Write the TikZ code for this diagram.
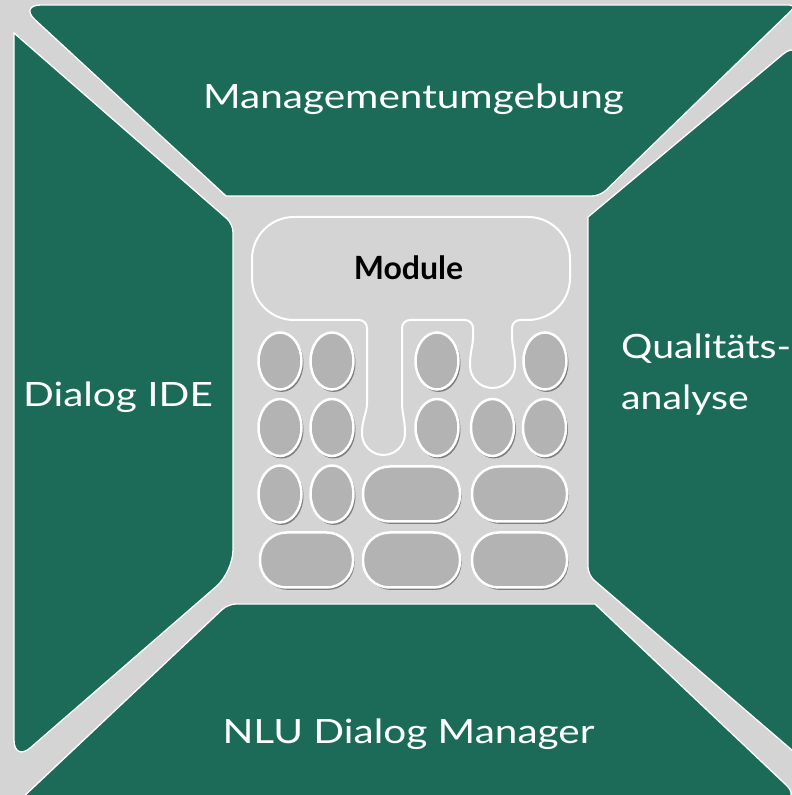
\documentclass[tikz,border=0pt]{standalone}
\usepackage{fontspec}
\setmainfont{Lato}[FakeStretch=1.21]
\newfontfamily\qafont{Lato}[FakeStretch=1.17]
\newfontfamily\modfont{Lato}[FakeStretch=1.0]
\definecolor{dgreen}{HTML}{1B6B58}
\definecolor{bggray}{HTML}{D3D4D3}
\definecolor{elgray}{HTML}{B3B3B3}
\definecolor{shgray}{HTML}{7E7E7E}
\begin{document}
\begin{tikzpicture}[x=1pt,y=1pt,
  panel/.style={fill=dgreen,draw=white,line width=1.3pt},
  blob/.style={fill=bggray,draw=white,line width=2pt},
  oval/.style={fill=elgray,draw=white,line width=2.5pt},
  ovalshadow/.style={fill=shgray,draw=none},
  biglabel/.style={text=white,inner sep=0pt,font=\fontsize{33.5}{40}\selectfont},
  qalabel/.style={text=white,inner sep=0pt,font=\qafont\fontsize{33.5}{40}\selectfont},
  modlabel/.style={text=black,inner sep=0pt,font=\modfont\bfseries\fontsize{32}{38}\selectfont}
]
\useasboundingbox (0,0) rectangle (792,795);
\fill[bggray] (0,0) rectangle (792,795);
\begin{scope}
\clip (0,0) rectangle (792,795);
% top panel
\draw[panel] (413,599) -- (226,599) [rounded corners=22] -- (19,790) [rounded corners=8] -- (797,790) -- (600,599) [rounded corners=22] -- cycle;
% left panel
\draw[panel] (14,397) -- (14,762) [rounded corners=8] -- (233,571) [rounded corners=22] -- (233,223) -- (14,33) [rounded corners=8] -- cycle;
% bottom panel
\draw[panel] (413,191) -- (595,191) [rounded corners=22] -- (802,-5) [rounded corners=8] -- (20,-5) -- (228,191) [rounded corners=22] -- cycle;
% right panel
\draw[panel] (588,400) -- (588,578) [rounded corners=22] -- (800,755) [rounded corners=8] -- (800,38) -- (588,220) [rounded corners=22] -- cycle;
\end{scope}
% module blob
\draw[blob] (367,392) -- (367,467) arc[start angle=0,end angle=90,radius=8]
  -- (294,475) arc[start angle=270,end angle=180,radius=42]
  -- (252,536) arc[start angle=180,end angle=90,radius=42]
  -- (528,578) arc[start angle=90,end angle=0,radius=42]
  -- (570,517) arc[start angle=0,end angle=-90,radius=42]
  -- (520,475) arc[start angle=90,end angle=180,radius=8]
  -- (512,457) .. controls (512,449) and (515,444) .. (515,429.5)
  arc[start angle=0,end angle=-180,radius=22.5]
  .. controls (470,444) and (473,449) .. (473,457)
  -- (473,467) arc[start angle=0,end angle=90,radius=8]
  -- (410,475) arc[start angle=90,end angle=180,radius=8]
  -- (402,392) .. controls (402,382) and (405,376) .. (405,361.5)
  arc[start angle=0,end angle=-180,radius=21.5]
  .. controls (362,376) and (367,382) .. (367,392) -- cycle;
% ellipses
\foreach \x/\y in {280/434,332/434,437/434,545/434,
                   280/367.5,332/367.5,437/367.5,492.5/367.5,544.5/367.5,
                   280/301,332/301}{
  \fill[ovalshadow] (\x+1.5,\y-2) ellipse[x radius=22,y radius=29];
  \draw[oval] (\x,\y) ellipse[x radius=21.5,y radius=28.5];
}
% stadiums
\foreach \x/\y/\w in {411.5/301/97,519.5/301/95,306.5/235/93,411.5/235/97,519.5/235/95}{
  \fill[ovalshadow,rounded corners=27] (\x-\w/2+1.5,\y-28-2) rectangle (\x+\w/2+1.5,\y+28-2);
  \draw[oval,rounded corners=26.5] (\x-\w/2,\y-27.5) rectangle (\x+\w/2,\y+27.5);
}
% labels
\node[biglabel,anchor=base] (mgmt) at (413.5,686) {Managementumgebung};
\node[biglabel,anchor=base] (ide) at (118,388) {Dialog IDE};
\node[qalabel,anchor=base west] (qa1) at (621,436) {Qualitäts-};
\node[qalabel,anchor=base west] (qa2) at (621,385) {analyse};
\node[biglabel,anchor=base] (nlu) at (408.5,51) {NLU Dialog Manager};
\node[modlabel,anchor=base] (mod) at (408.5,515) {Module};
\end{tikzpicture}
\end{document}
